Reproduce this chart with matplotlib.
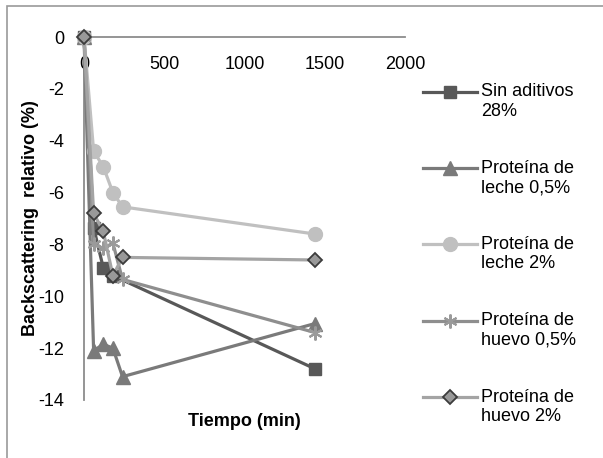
import matplotlib
matplotlib.use("Agg")
import matplotlib.pyplot as plt
from matplotlib.patches import Rectangle
from matplotlib.lines import Line2D
from matplotlib.legend_handler import HandlerLine2D

plt.rcParams["font.family"] = ["Liberation Sans", "DejaVu Sans"]

# data
tiempo = [0, 60, 120, 180, 240, 1440]
sin_aditivos = [0, -7.35, -8.9, -9.2, None, -12.8]
leche_05 = [0, -12.1, -11.85, -12.0, -13.1, -11.05]
leche_2 = [0, -4.4, -5.0, -6.0, -6.55, -7.6]
huevo_05 = [0, -8.0, -8.15, -7.95, -9.35, -11.4]
huevo_2 = [0, -6.8, -7.5, -9.2, -8.5, -8.6]

labels = ["Sin aditivos\n28%", "Proteína de\nleche 0,5%", "Proteína de\nleche 2%",
          "Proteína de\nhuevo 0,5%", "Proteína de\nhuevo 2%"]
x_ticks = [0, 500, 1000, 1500, 2000]
y_ticks = [0, -2, -4, -6, -8, -10, -12, -14]


class FirstLineHandler(HandlerLine2D):
    # put the legend handle next to the first line of a two-line label
    def create_artists(self, legend, orig_handle, xdescent, ydescent, width, height, fontsize, trans):
        return super().create_artists(legend, orig_handle, xdescent, ydescent - 2 * 0.55 * fontsize,
                                      width, height, fontsize, trans)


fig = plt.figure(figsize=(6.03, 4.58), dpi=100)
ax = fig.add_axes([84 / 603, 1 - 400 / 458, 321 / 603, 363 / 458])

fig.patches.append(Rectangle((7 / 603, -0.1), 1.2, 1.1 - 6 / 458, transform=fig.transFigure,
                             fill=False, edgecolor="#9a9a9a", linewidth=1.2))


def clean(xs, ys):
    pts = [(a, b) for a, b in zip(xs, ys) if b is not None]
    return [p[0] for p in pts], [p[1] for p in pts]


lw = 2.3
x, y = clean(tiempo, sin_aditivos)
ax.plot(x, y, color="#585858", lw=lw, marker="s", ms=9, mfc="#585858", mec="#585858",
        label=labels[0], clip_on=False, zorder=3)
ax.plot(tiempo, leche_05, color="#7a7a7a", lw=lw, marker="^", ms=10, mfc="#7a7a7a", mec="#7a7a7a",
        label=labels[1], clip_on=False, zorder=3)
ax.plot(tiempo, leche_2, color="#c0c0c0", lw=lw, marker="o", ms=10, mfc="#c0c0c0", mec="#c0c0c0",
        label=labels[2], clip_on=False, zorder=3)
ax.plot(tiempo, huevo_05, color="#8e8e8e", lw=lw, marker=(6, 2, 0), ms=10, mfc="#8e8e8e",
        mec="#9a9a9a", mew=1.5, label=labels[3], clip_on=False, zorder=3)
ax.plot(tiempo, huevo_2, color="#a4a4a4", lw=lw, marker="D", ms=7.5, mfc="#999999", mec="#3c3c3c",
        mew=1.3, label=labels[4], clip_on=False, zorder=3)

ax.set_xlim(0, 2000)
ax.set_ylim(-14, 0)
ax.set_xticks(x_ticks)
ax.set_yticks(y_ticks)
ax.set_yticklabels([str(v) for v in y_ticks])
ax.xaxis.tick_top()
ax.tick_params(axis="x", length=0, pad=-26, labelsize=13)
ax.tick_params(axis="y", length=0, pad=14, labelsize=13)
for s in ["right", "bottom"]:
    ax.spines[s].set_visible(False)
for s in ["top", "left"]:
    ax.spines[s].set_color("#8c8c8c")
    ax.spines[s].set_linewidth(1.3)
ax.patch.set_alpha(0)

ax.set_xlabel("Tiempo (min)", fontsize=13, fontweight="bold", labelpad=9)
ax.set_ylabel("Backscattering  relativo (%)", fontsize=13, fontweight="bold", labelpad=0)

leg = fig.legend(loc="upper left", bbox_to_anchor=(407 / 603, 1 - 67 / 458), frameon=False,
                 fontsize=13, handlelength=3.0, handletextpad=0.2, labelspacing=2.2,
                 handler_map={Line2D: FirstLineHandler()})

fig.savefig("out.png", dpi=100)
